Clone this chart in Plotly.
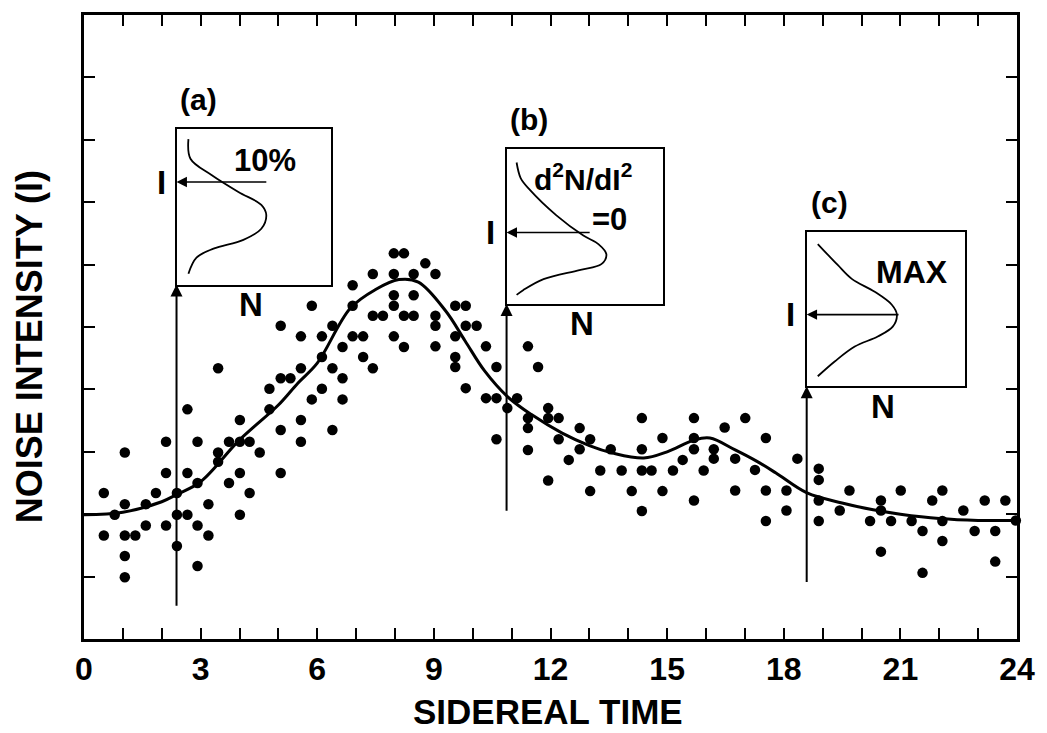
import plotly.graph_objects as go

FONT = "Liberation Sans, Arial, Helvetica, sans-serif"

# Individual measurements: sidereal time (h) and noise intensity
sample_time = [
    0.51, 0.51, 0.79, 1.05, 1.05, 1.05, 1.05, 1.05, 1.32, 1.59, 1.59, 1.85,
    2.11, 2.11, 2.11, 2.39, 2.39, 2.39, 2.66, 2.66, 2.66, 2.92, 2.92, 2.92, 2.92,
    3.20, 3.20, 3.45, 3.45, 3.45, 3.73, 3.73, 4.01, 4.01, 4.01, 4.01, 4.26, 4.26,
    4.52, 4.77, 4.77, 5.06, 5.06, 5.06, 5.06, 5.31, 5.58, 5.58, 5.58, 5.58,
    5.86, 5.86, 6.12, 6.12, 6.12, 6.39, 6.39, 6.39, 6.65, 6.65, 6.65,
    6.91, 6.91, 6.91, 7.18, 7.18, 7.43, 7.43, 7.43, 7.69,
    7.97, 7.97, 7.97, 7.97, 7.97, 8.23, 8.23, 8.23, 8.48, 8.48, 8.48, 8.78,
    9.04, 9.04, 9.04, 9.04, 9.55, 9.55, 9.55, 9.55, 9.82, 9.82, 9.82, 10.10,
    10.34, 10.34, 10.61, 10.61, 10.61, 10.89, 11.14, 11.42, 11.42, 11.42, 11.42,
    11.68, 11.94, 11.94, 11.94, 12.21, 12.21, 12.47, 12.75, 12.75, 13.02, 13.02,
    13.28, 13.55, 13.83, 14.09, 14.35, 14.35, 14.35, 14.35, 14.60, 14.88, 14.88,
    15.15, 15.40, 15.69, 15.69, 15.69, 15.69, 15.94, 16.20, 16.20, 16.48,
    16.75, 16.75, 17.01, 17.26, 17.54, 17.54, 17.54, 18.07, 18.07, 18.35,
    18.90, 18.90, 18.90, 18.90, 19.44, 19.69, 20.22, 20.50, 20.50, 20.50,
    20.76, 21.01, 21.29, 21.57, 21.57, 21.82, 22.08, 22.08, 22.08, 22.62,
    22.91, 23.17, 23.44, 23.44, 23.70, 23.97,
]
sample_level = [
    2.34, 1.66, 1.99, 2.99, 2.16, 1.66, 1.33, 0.99, 1.66, 2.16, 1.82, 2.34,
    3.16, 2.66, 1.82, 2.34, 1.99, 1.49, 3.68, 2.66, 1.99, 3.16, 2.50, 1.82, 1.17,
    2.16, 1.66, 4.34, 2.99, 2.84, 3.16, 2.50, 3.51, 3.16, 2.66, 1.99, 3.16, 2.34,
    2.99, 4.01, 3.68, 5.02, 4.18, 3.35, 2.66, 4.18, 4.85, 4.34, 3.51, 3.16,
    5.34, 3.84, 4.85, 4.52, 4.01, 5.02, 4.34, 3.35, 4.68, 4.18, 3.84,
    5.67, 5.34, 4.85, 4.85, 4.52, 5.85, 5.18, 4.34, 5.18,
    6.18, 5.85, 5.51, 5.34, 4.85, 6.18, 5.18, 4.68, 5.85, 5.51, 5.18, 6.02,
    5.85, 5.18, 5.02, 4.69, 5.34, 4.85, 4.52, 4.36, 5.34, 5.02, 4.02, 5.02,
    4.69, 3.86, 4.36, 3.86, 3.20, 3.70, 3.86, 4.69, 3.54, 3.38, 3.03,
    4.36, 3.70, 3.54, 2.54, 3.54, 3.20, 2.87, 3.38, 3.04, 3.20, 2.37,
    2.70, 3.04, 2.70, 2.37, 3.54, 3.04, 2.70, 2.05, 2.70, 3.22, 2.37,
    2.70, 2.87, 3.54, 3.22, 3.04, 2.22, 2.70, 3.04, 2.89, 3.39,
    2.89, 2.38, 3.54, 2.71, 3.22, 2.38, 1.89, 2.38, 2.06, 2.89,
    2.73, 2.55, 2.22, 1.89, 2.06, 2.38, 1.89, 2.22, 2.06, 1.40,
    1.89, 2.38, 1.89, 1.73, 1.06, 2.22, 2.38, 1.89, 1.57, 2.06,
    1.73, 2.22, 1.73, 1.24, 2.22, 1.90,
]

# Smoothed trend through the measurements
fit_time = [0, 1, 2, 2.4, 3, 4, 5, 5.5, 6, 6.85, 7.5, 8.1, 8.6, 9.3, 9.8, 10.3,
            10.9, 11.5, 12.3, 13, 13.6, 14.4, 15, 15.7, 16.1, 16.75, 17.3, 17.8,
            18.6, 19.5, 20.3, 21, 22, 23, 24]
fit_level = [1.99, 2.03, 2.2, 2.32, 2.52, 3.19, 3.75, 4.1, 4.42, 5.3, 5.6, 5.76,
             5.72, 5.26, 4.78, 4.3, 3.88, 3.6, 3.30, 3.1, 2.98, 2.90, 3.0, 3.19,
             3.22, 3.03, 2.85, 2.66, 2.34, 2.18, 2.07, 2.0, 1.93, 1.90, 1.90]

x_ticks = [0, 3, 6, 9, 12, 15, 18, 21, 24]

# Inset panels: box corners in main-axis units and base of the pointer arrow
inset_tags = ["(a)", "(b)", "(c)"]
inset_x0 = [2.38, 10.87, 18.59]
inset_x1 = [6.36, 14.90, 22.66]
inset_y0 = [5.68, 5.37, 4.05]
inset_y1 = [8.17, 7.86, 6.52]
pointer_base = [0.51, 2.03, 0.89]

# Distribution sketches inside each inset (N across, I up, unit box)
dist_a_n = [0.077, 0.09, 0.226, 0.40, 0.548, 0.58, 0.548, 0.432, 0.239, 0.129, 0.077]
dist_a_i = [0.936, 0.81, 0.705, 0.596, 0.513, 0.449, 0.359, 0.288, 0.231, 0.173, 0.07]
dist_b_n = [0.064, 0.09, 0.146, 0.318, 0.49, 0.586, 0.637, 0.605, 0.465, 0.236, 0.108, 0.064]
dist_b_i = [0.91, 0.81, 0.737, 0.57, 0.44, 0.385, 0.32, 0.256, 0.218, 0.16, 0.09, 0.058]
dist_c_n = [0.07, 0.196, 0.285, 0.43, 0.538, 0.57, 0.544, 0.449, 0.304, 0.177, 0.07]
dist_c_i = [0.923, 0.787, 0.697, 0.613, 0.529, 0.465, 0.387, 0.323, 0.258, 0.161, 0.065]
dist_n = [dist_a_n, dist_b_n, dist_c_n]
dist_i = [dist_a_i, dist_b_i, dist_c_i]

# Selected intensity level (I) marked by the arrow in each inset
marker_level = [0.66, 0.46, 0.465]
marker_start = [0.59, 0.54, 0.59]

# Criterion labels inside insets: text, N, I, size
criterion_text = [
    [("10%", 0.574, 0.80, 31)],
    [("d<sup>2</sup>N/dI<sup>2</sup>", 0.49, 0.814, 30), ("=0", 0.656, 0.545, 31)],
    [("MAX", 0.665, 0.742, 32)],
]

fig = go.Figure()

fig.add_trace(go.Scatter(
    x=sample_time, y=sample_level, mode="markers",
    marker=dict(color="black", size=10.5, line=dict(width=0)),
    cliponaxis=False, showlegend=False, hoverinfo="skip",
))
fig.add_trace(go.Scatter(
    x=fit_time, y=fit_level, mode="lines",
    line=dict(color="black", width=3, shape="spline", smoothing=1),
    showlegend=False, hoverinfo="skip",
))

bold = dict(family=FONT, color="black", weight="bold")
annotations = []


def inset_paper(k, n, i):
    """Convert unit-box inset coordinates to paper coordinates."""
    px = (inset_x0[k] + n * (inset_x1[k] - inset_x0[k])) / 24
    py = (inset_y0[k] + i * (inset_y1[k] - inset_y0[k])) / 10
    return px, py


def inset_label(k, n, i, text, size):
    px, py = inset_paper(k, n, i)
    annotations.append(dict(x=px, y=py, xref="paper", yref="paper", text=text,
                            xanchor="center", yanchor="middle",
                            showarrow=False, font=dict(bold, size=size)))


for k in range(3):
    ax_id = k + 2
    xa, ya = f"x{ax_id}", f"y{ax_id}"
    fig.add_trace(go.Scatter(
        x=dist_n[k], y=dist_i[k], mode="lines",
        line=dict(color="black", width=1.8, shape="spline", smoothing=1),
        xaxis=xa, yaxis=ya, showlegend=False, hoverinfo="skip",
    ))
    box_axis = dict(range=[0, 1], showline=True, mirror=True, linecolor="black",
                    linewidth=2, showgrid=False, zeroline=False, ticks="",
                    showticklabels=False, fixedrange=True)
    fig.update_layout(**{
        f"xaxis{ax_id}": dict(box_axis, domain=[inset_x0[k] / 24, inset_x1[k] / 24], anchor=ya),
        f"yaxis{ax_id}": dict(box_axis, domain=[inset_y0[k] / 10, inset_y1[k] / 10], anchor=xa),
    })
    # horizontal arrow pointing to the intensity axis
    annotations.append(dict(
        x=0.0, y=marker_level[k], ax=marker_start[k], ay=marker_level[k],
        xref=xa, yref=ya, axref=xa, ayref=ya, text="", showarrow=True,
        arrowhead=2, arrowsize=1.3, arrowwidth=1.6, arrowcolor="black",
    ))
    inset_label(k, -0.1, marker_level[k], "I", 33)
    inset_label(k, 0.48, -0.128, "N", 33)
    inset_label(k, 0.145, 1.19, inset_tags[k], 30)
    for txt, nx, iy, sz in criterion_text[k]:
        inset_label(k, nx, iy, txt, sz)
    # vertical pointer from the time axis up to the inset
    annotations.append(dict(
        x=inset_x0[k], y=inset_y0[k], ax=inset_x0[k], ay=pointer_base[k],
        xref="x", yref="y", axref="x", ayref="y", text="", showarrow=True,
        arrowhead=2, arrowsize=1.2, arrowwidth=2, arrowcolor="black",
    ))

annotations.append(dict(
    x=0.497, y=-0.15, xref="paper", yref="paper", text="SIDEREAL TIME",
    showarrow=False, font=dict(bold, size=35), xanchor="center", yanchor="bottom",
))
annotations.append(dict(
    x=-0.059, y=0.469, xref="paper", yref="paper", text="NOISE INTENSITY (I)",
    textangle=-90, showarrow=False, font=dict(bold, size=36),
    xanchor="center", yanchor="middle",
))

fig.update_layout(
    width=1047, height=733,
    margin=dict(l=84, r=25, t=12, b=94),
    paper_bgcolor="white", plot_bgcolor="white",
    showlegend=False,
    annotations=annotations,
    xaxis=dict(
        range=[0, 24], tickvals=x_ticks, ticktext=[str(v) for v in x_ticks],
        ticks="inside", ticklen=11, tickwidth=2, tickcolor="black",
        minor=dict(dtick=1, tick0=0, ticks="inside", ticklen=11, tickwidth=2, tickcolor="black"),
        showline=True, linecolor="black", linewidth=2.5, mirror="ticks",
        showgrid=False, zeroline=False,
        tickfont=dict(bold, size=32), ticklabelstandoff=0,
    ),
    yaxis=dict(
        range=[0, 10], dtick=1, tick0=0,
        ticks="inside", ticklen=11, tickwidth=2, tickcolor="black",
        showline=True, linecolor="black", linewidth=2.5, mirror="ticks",
        showgrid=False, zeroline=False, showticklabels=False,
    ),
)

fig.write_html("out.html")
